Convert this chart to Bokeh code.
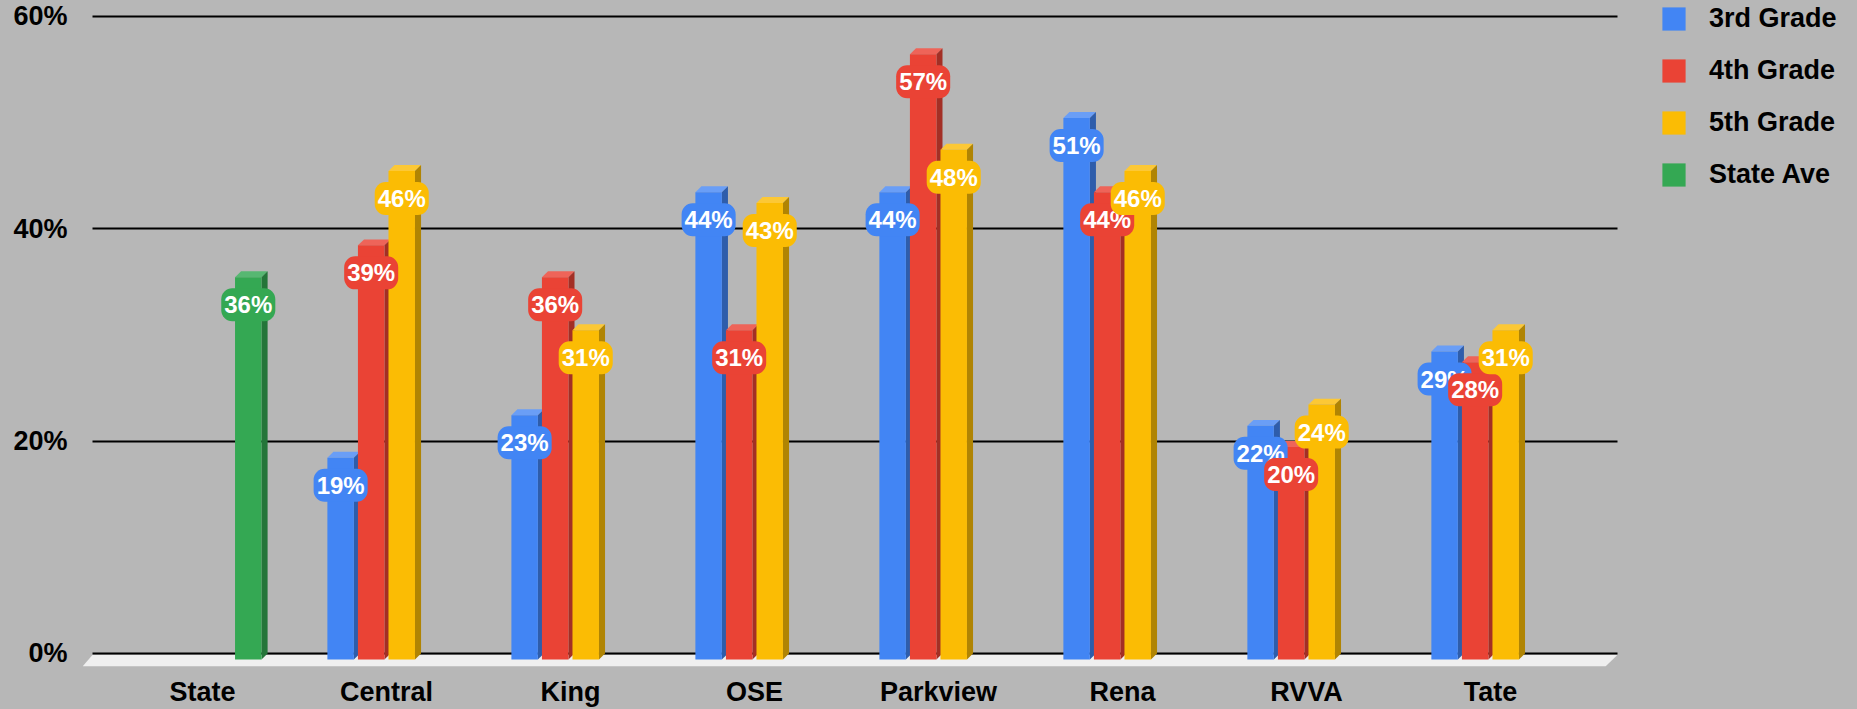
from bokeh.plotting import figure
from bokeh.models import ColumnDataSource, Range1d, FixedTicker, Legend, LegendItem
from bokeh.transform import dodge
from bokeh.core.properties import value
from bokeh.embed import file_html
from bokeh.resources import INLINE

# ---------------- data ----------------
categories = ["State", "Central", "King", "OSE", "Parkview", "Rena", "RVVA", "Tate"]
series_names = ["3rd Grade", "4th Grade", "5th Grade", "State Ave"]
grade3 = [None, 19, 23, 44, 44, 51, 22, 29]
grade4 = [None, 39, 36, 31, 57, 44, 20, 28]
grade5 = [None, 46, 31, 43, 48, 46, 24, 31]
state_ave = [36, None, None, None, None, None, None, None]
yticks = [0, 20, 40, 60]
ytick_labels = ["0%", "20%", "40%", "60%"]

# ---------------- style ----------------
colors = ["#4285F4", "#EA4335", "#FBBC04", "#34A853"]
side_colors = ["#2E5DAB", "#A32F25", "#B08403", "#247539"]
top_colors = ["#6A9EF6", "#EE6459", "#FCC836", "#57B772"]
BG = "#b7b7b7"
FONT = "Liberation Sans"
bar_w = 0.144
slot = 0.166
dx = 0.033
dy = 0.56
x_start, x_end = -0.652, 8.995
grid_lo, grid_hi = -0.598, 7.69

positions = list(range(len(categories)))

p = figure(
    x_range=Range1d(x_start, x_end),
    y_range=Range1d(-1.23, 61.505),
    width=1857, height=709,
    output_backend="svg", toolbar_location=None,
    min_border_left=82, min_border_right=0, min_border_top=0, min_border_bottom=42,
)
p.background_fill_color = BG
p.border_fill_color = BG
p.outline_line_color = None

# floor
p.patch([grid_lo, grid_hi, grid_hi - 0.065, x_start], [-0.15, -0.15, -1.23, -1.23],
        fill_color="#efefef", line_color=None)

legend_items = []
all_series = [grade3, grade4, grade5, state_ave]
label_sources = []
for i, vals in enumerate(all_series):
    idx = [k for k, v in zip(positions, vals) if v is not None]
    vs = [v for v in vals if v is not None]
    off = (i - 1.5) * slot
    L = off - bar_w / 2
    R = off + bar_w / 2
    top_xs = [[k + L, k + R, k + R + dx, k + L + dx] for k in idx]
    top_ys = [[v - dy, v - dy, v, v] for v in vs]
    side_xs = [[k + R, k + R + dx, k + R + dx, k + R] for k in idx]
    side_ys = [[-dy, 0, v, v - dy] for v in vs]
    p.patches(xs="xs", ys="ys", source=ColumnDataSource(dict(xs=top_xs, ys=top_ys)),
              fill_color=top_colors[i], line_color=None)
    p.patches(xs="xs", ys="ys", source=ColumnDataSource(dict(xs=side_xs, ys=side_ys)),
              fill_color=side_colors[i], line_color=None)
    src = ColumnDataSource(dict(idx=idx, val=vs, lbl=[f"{v}%" for v in vs]))
    r = p.vbar(x=dodge("idx", off), width=bar_w, bottom=-dy,
               top=dodge("val", -dy), source=src, fill_color=colors[i], line_color=None)
    legend_items.append(LegendItem(label=series_names[i], renderers=[r]))
    label_sources.append((src, off, colors[i]))

for src, off, col in label_sources:
    p.text(x=dodge("idx", off), y=dodge("val", -3.15), text="lbl", source=src,
           text_color="white", text_font=value(FONT), text_font_style="bold",
           text_font_size="24px", text_align="center", text_baseline="middle",
           background_fill_color=col, border_radius=11, padding=3)

# grid & axes
p.xgrid.visible = False
p.ygrid.ticker = FixedTicker(ticks=yticks)
p.ygrid.grid_line_color = "black"
p.ygrid.grid_line_width = 2
p.ygrid.grid_line_alpha = 1.0
p.ygrid.cross_bounds = (grid_lo, grid_hi)

p.yaxis.ticker = FixedTicker(ticks=yticks)
p.yaxis.major_label_overrides = {t: l for t, l in zip(yticks, ytick_labels)}
p.xaxis.ticker = FixedTicker(ticks=positions)
p.xaxis.major_label_overrides = {k: c for k, c in zip(positions, categories)}
for ax in (p.xaxis, p.yaxis):
    ax.axis_line_color = None
    ax.major_tick_line_color = None
    ax.minor_tick_line_color = None
    ax.major_tick_out = 0
    ax.major_tick_in = 0
    ax.major_label_text_font = FONT
    ax.major_label_text_font_style = "bold"
    ax.major_label_text_font_size = "27px"
    ax.major_label_text_color = "black"
p.yaxis.major_label_standoff = 15
p.xaxis.major_label_standoff = 10

legend = Legend(items=legend_items, location=(1577, 476), orientation="vertical",
                glyph_width=29, glyph_height=29, label_standoff=21, spacing=21,
                label_height=27, padding=0, margin=0,
                label_text_font=FONT, label_text_font_style="bold",
                label_text_font_size="27px", label_text_color="black",
                background_fill_alpha=0, border_line_color=None)
p.add_layout(legend, "center")

html = file_html(p, INLINE)
html = html.replace("<head>", "<head><style>body{background:#b7b7b7;}</style>", 1)
open("out.html", "w").write(html)
